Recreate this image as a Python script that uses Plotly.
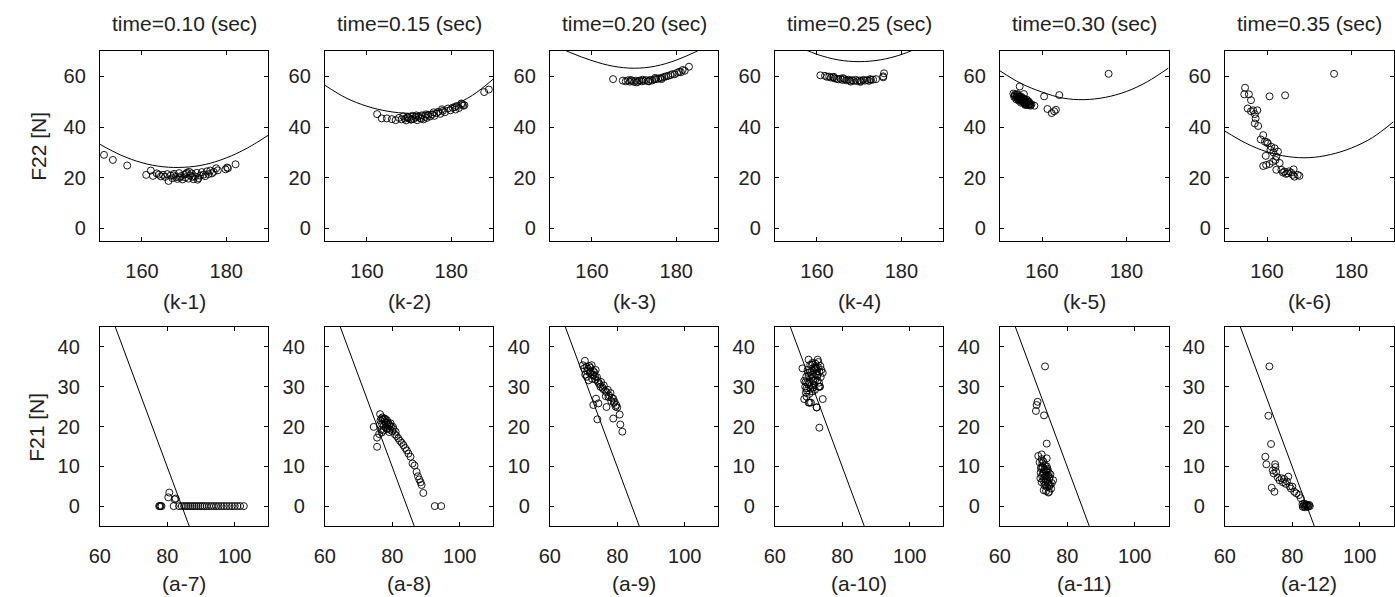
import plotly.graph_objects as go

W, H = 1395, 597

titles = ["time=0.10 (sec)", "time=0.15 (sec)", "time=0.20 (sec)",
          "time=0.25 (sec)", "time=0.30 (sec)", "time=0.35 (sec)"]
top_labels = ["(k-1)", "(k-2)", "(k-3)", "(k-4)", "(k-5)", "(k-6)"]
bot_labels = ["(a-7)", "(a-8)", "(a-9)", "(a-10)", "(a-11)", "(a-12)"]

# ---- boundary curves (top row) ----
curve_x = [150, 155, 160, 165, 170, 175, 180, 185, 190]
k1_curve = [33.2, 28.9, 25.9, 24.3, 24.1, 25.2, 27.8, 31.7, 36.8]
k2_curve = [56.5, 51.5, 48.2, 46.2, 45.4, 45.9, 48.3, 52.5, 59.0]
k3_curve = [73.0, 69.3, 66.2, 64.0, 63.2, 64.0, 66.4, 70.0, 74.0]
k4_curve = [77.0, 72.2, 68.7, 66.5, 65.8, 66.5, 68.6, 72.1, 77.0]
k5_curve = [62.2, 57.2, 53.8, 51.4, 50.8, 51.7, 54.0, 57.9, 63.3]
k6_curve = [38.4, 33.6, 30.2, 28.3, 27.9, 29.1, 31.7, 35.8, 42.1]

# ---- boundary line (bottom row) ----
line_x = [64.6, 86.5]
line_y = [45, -5]

# ---- measured points ----
k1_x = [151, 153.1, 156.5, 161, 162.1, 162.6, 163.5, 164, 164.5, 165, 165.5, 166, 166.3, 166.8,
        167.2, 167.6, 168, 168.4, 168.8, 169.2, 169.6, 170, 170.3, 170.7, 171, 171.4, 171.8, 172.2,
        172.6, 173, 173.4, 173.8, 174.2, 174.6, 175, 175.4, 175.8, 176.2, 176.6, 177, 177.6, 178,
        179.8, 180.2, 180.4, 182.2, 169.0, 170.5, 172.0, 173.2, 167.5, 171.2]
k1_y = [29, 27, 24.8, 21.1, 22.8, 20.7, 21.7, 21.2, 20.5, 21.1, 20.3, 21.4, 18.7, 20.8,
        19.8, 21.5, 20.2, 19.5, 21.8, 20.6, 19.3, 21.2, 20.1, 22.0, 19.6, 20.9, 21.7, 19.4,
        20.5, 21.9, 19.8, 20.8, 22.2, 21.2, 20.6, 22.5, 21.4, 22.8, 21.7, 22.3, 23.7, 22.9,
        23.3, 24, 23.7, 25.3, 20.0, 21.5, 20.3, 19.2, 20.9, 22.3]

k2_x = [162.4, 163.5, 164.7, 165.9, 166.8, 167.6, 168.2, 168.6, 169.0, 169.3, 169.7, 170.0, 170.4,
        170.8, 171.1, 171.5, 171.9, 172.2, 172.6, 173.0, 173.4, 173.8, 174.2, 174.5, 175.0, 175.5,
        176.0, 176.5, 176.9, 177.4, 178.0, 178.5, 179.2, 179.8, 180.3, 180.8, 181.3, 181.8, 182.4,
        182.8, 183.1, 187.8, 188.9, 169.6, 170.6, 171.7, 172.9, 174.0, 175.8, 177.8, 181.0, 182.6]
k2_y = [45.1, 43.4, 43.4, 43.1, 42.7, 43.6, 43.0, 44.2, 43.3, 42.6, 44.0, 43.5, 42.9,
        44.4, 43.2, 43.8, 42.7, 44.1, 43.5, 44.6, 43.0, 44.0, 43.6, 44.8, 44.2, 45.0,
        44.4, 45.5, 46.0, 45.2, 46.4, 45.8, 47.3, 46.6, 47.6, 47.9, 48.3, 47.5, 49.3,
        48.4, 48.6, 53.8, 54.8, 43.7, 43.0, 44.6, 43.3, 45.0, 45.8, 47.0, 46.9, 49.0]

k3_x = [165.0, 167.3, 168.0, 168.5, 169.0, 169.5, 170.0, 170.4, 170.9, 171.3, 171.8, 172.3, 172.8,
        173.3, 173.8, 174.3, 174.8, 175.2, 175.7, 176.2, 176.7, 177.2, 177.6, 178.1, 178.6, 179.1,
        179.6, 180.2, 180.7, 181.1, 181.5, 182.0, 183.0, 169.2, 170.6, 172.0, 173.5, 175.0, 176.5]
k3_y = [58.9, 58.3, 58.0, 58.4, 57.9, 58.2, 57.8, 58.3, 57.9, 58.3, 58.0, 58.2, 58.5,
        58.1, 58.6, 58.4, 58.8, 58.9, 59.1, 59.3, 59.5, 59.8, 60.0, 60.2, 60.5, 60.9,
        60.8, 61.4, 61.8, 61.6, 62.5, 62.2, 63.8, 58.6, 57.6, 58.7, 58.0, 59.4, 58.9]

k4_x = [160.8, 161.9, 162.4, 162.9, 163.3, 163.8, 164.2, 164.7, 165.1, 165.6, 166.0, 166.5, 166.9,
        167.4, 167.8, 168.3, 168.7, 169.2, 169.6, 170.1, 170.5, 171.0, 171.4, 171.9, 172.3, 172.8,
        173.3, 174.0, 175.7, 175.9, 175.7, 164.0, 166.2, 168.0, 170.3, 172.6]
k4_y = [60.4, 60.2, 59.8, 59.9, 59.5, 59.6, 59.2, 59.0, 58.8, 59.1, 58.6, 58.9, 58.4,
        58.7, 58.3, 58.5, 58.2, 58.6, 58.1, 58.4, 58.2, 58.6, 58.3, 58.5, 58.2, 58.6,
        58.7, 58.9, 59.6, 61.2, 60.0, 59.8, 59.3, 57.9, 57.8, 58.9]

k5_x = [153.2, 153.5, 153.8, 154.0, 154.3, 154.5, 154.7, 154.9, 155.2, 155.4, 155.6, 155.8, 156.0,
        156.2, 156.5, 156.7, 157.0, 157.3, 154.2, 154.6, 155.0, 155.3, 155.7, 156.1, 156.4, 156.8,
        157.2, 154.7, 155.7, 158.2, 160.5, 161.3, 162.3, 162.9, 163.3, 164.1, 175.8,
        153.4, 153.9, 154.4, 154.8, 155.1, 155.5, 155.9, 156.3, 156.6, 157.0, 157.5, 153.6, 154.1,
        154.6, 155.0, 155.5, 156.0, 156.4, 156.9]
k5_y = [53.2, 52.4, 51.6, 52.8, 51.0, 50.4, 52.0, 51.3, 50.2, 49.8, 51.1, 49.4, 50.3,
        48.9, 49.6, 48.6, 49.2, 48.4, 53.0, 52.2, 51.5, 50.8, 50.0, 49.0, 50.8, 49.8,
        48.8, 56.0, 53.0, 48.4, 52.1, 47.1, 45.5, 46.2, 46.8, 52.6, 61.0,
        51.9, 50.9, 51.8, 50.6, 51.9, 50.5, 50.9, 49.7, 50.2, 48.9, 49.0, 52.9, 52.0,
        51.0, 49.6, 51.4, 48.7, 49.3, 50.0]

k6_x = [154.8, 154.6, 155.7, 156.2, 155.4, 156.2, 156.7, 157.1, 157.7, 157.3, 157.1, 157.9, 160.6,
        164.3, 175.9, 159.1, 158.5, 159.5, 160.2, 161.0, 161.8, 159.7, 159.1, 159.8, 160.6, 161.4,
        162.2, 162.6, 163.0, 162.2, 163.4, 164.1, 164.9, 165.7, 166.1, 166.5, 167.3, 167.7, 166.3,
        160.0, 160.8, 161.5, 162.0, 163.8, 164.5, 165.2]
k6_y = [55.5, 52.9, 52.9, 50.6, 47.3, 46.2, 46.6, 45.1, 46.6, 43.4, 41.4, 40.4, 52.1,
        52.5, 61.0, 36.8, 35.1, 34.2, 33.5, 32.2, 31.6, 28.6, 24.6, 25.0, 25.4, 26.3,
        28.3, 30.3, 25.8, 23.1, 23.1, 22.4, 21.7, 22.0, 21.1, 20.4, 21.1, 20.7, 23.3,
        34.0, 31.0, 30.0, 27.0, 22.0, 21.5, 22.5]

a7_x = [77.6, 77.8, 78.0, 78.3, 80.3, 80.6, 81.9, 82.2, 82.5, 83.5, 84.3, 85.0, 85.6, 86.2, 86.8,
        87.4, 88.0, 88.6, 89.2, 89.8, 90.4, 91.0, 91.7, 92.4, 93.1, 93.8, 94.5, 95.2, 96.0, 96.8,
        97.6, 98.4, 99.2, 100.0, 100.8, 101.6, 102.7]
a7_y = [0, 0, 0, 0, 2.2, 3.4, 0, 1.7, 1.9, 0, 0, 0, 0, 0, 0,
        0, 0, 0, 0, 0, 0, 0, 0, 0, 0, 0, 0, 0, 0, 0,
        0, 0, 0, 0, 0, 0, 0]

a8_x = [74.5, 75.5, 75.5, 76.1, 76.4, 76.5, 76.8, 77.0, 77.2, 77.5, 77.7, 78.0, 78.2, 78.5, 78.8,
        79.0, 79.3, 79.6, 80.0, 80.4, 80.8, 81.3, 81.8, 82.3, 82.8, 83.3, 83.8, 84.3, 84.8, 85.4,
        86.0, 86.6, 87.2, 87.6, 88.0, 88.4, 88.7, 89.2, 92.6, 94.5,
        76.3, 76.7, 77.1, 77.4, 77.9, 78.3, 78.7, 79.1, 79.5, 76.9, 77.6, 78.4, 79.2, 80.2, 81.0]
a8_y = [19.9, 17.2, 14.9, 18.1, 23.1, 21.5, 22.0, 20.6, 21.8, 20.2, 21.3, 19.8, 20.9, 20.4, 19.5,
        20.6, 19.2, 20.0, 18.8, 19.3, 18.0, 17.6, 17.0, 16.4, 15.9, 15.3, 14.6, 14.0, 13.2, 12.4,
        10.7, 10.2, 8.6, 7.5, 6.7, 6.0, 5.3, 3.3, 0, 0,
        20.4, 19.2, 22.3, 19.0, 21.9, 19.4, 21.0, 18.6, 20.8, 18.5, 22.0, 21.6, 20.3, 19.9, 18.7]

a9_x = [69.8, 70.4, 70.9, 71.3, 71.7, 72.1, 72.4, 72.8, 73.2, 73.6, 70.5, 71.0, 71.5, 71.9, 72.5,
        73.0, 73.5, 74.0, 74.4, 74.8, 75.2, 75.6, 76.0, 76.4, 76.8, 77.2, 77.6, 78.0, 78.4, 78.8,
        79.2, 79.7, 80.0, 73.7, 74.1, 72.9, 74.4, 76.8, 78.8, 80.7, 80.9, 81.5,
        70.2, 71.1, 72.0, 72.7, 73.4, 74.2, 75.0, 75.8, 76.6, 77.4, 78.2, 79.0, 79.5]
a9_y = [35.4, 36.5, 35.0, 34.5, 35.2, 33.8, 35.4, 34.0, 33.6, 34.2, 33.0, 32.5, 31.6, 33.4, 32.0,
        33.0, 31.8, 32.4, 31.0, 30.6, 31.2, 29.8, 30.3, 29.0, 28.6, 29.2, 27.8, 28.4, 27.2, 27.0,
        26.2, 25.4, 24.8, 27.0, 21.8, 25.4, 25.8, 24.9, 22.0, 23.0, 20.5, 18.7,
        34.6, 33.9, 34.8, 32.9, 32.6, 31.5, 30.0, 29.4, 27.6, 27.4, 26.4, 25.9, 25.0]

a10_x = [68.2, 68.7, 69.0, 69.3, 69.5, 69.8, 70.0, 70.2, 70.5, 70.7, 71.0, 71.2, 71.5, 71.8, 72.0,
         72.3, 72.6, 72.9, 73.2, 73.5, 73.8, 74.2, 69.2, 69.6, 70.1, 70.6, 71.1, 71.6, 72.1, 72.7,
         73.3, 69.4, 70.3, 71.3, 72.4, 73.0, 70.0, 70.7, 72.4, 74.2, 73.2, 68.7, 72.7, 73.4,
         69.1, 69.7, 70.4, 71.0, 71.6, 72.2, 72.8, 73.6, 69.9, 70.8, 71.4, 72.0, 72.6, 73.1,
         69.4, 70.2, 71.2, 71.9, 72.5]
a10_y = [34.6, 31.5, 30.0, 32.5, 29.0, 33.5, 36.8, 31.0, 35.5, 30.2, 34.0, 36.0, 32.6, 35.0, 31.8,
         34.5, 33.0, 36.2, 33.8, 35.2, 34.2, 33.5, 28.5, 31.0, 32.8, 29.5, 33.0, 30.5, 34.8, 31.5,
         30.0, 27.5, 26.0, 29.8, 24.8, 30.0, 26.0, 26.0, 24.8, 26.9, 19.7, 26.9, 36.8, 30.0,
         31.2, 34.2, 33.6, 35.6, 34.6, 33.2, 34.9, 32.4, 30.6, 32.2, 31.4, 35.8, 32.8, 31.0,
         29.6, 28.2, 28.8, 29.2, 33.9]

a11_x = [73.4, 71.2, 70.9, 70.7, 73.1, 73.9, 73.9, 71.4, 72.4, 71.8, 72.2, 72.6, 73.0, 73.4, 73.8,
         74.2, 74.6, 75.0, 75.4, 75.8, 72.0, 72.4, 72.8, 73.2, 73.6, 74.0, 74.4, 74.8, 75.2, 72.3,
         72.9, 73.5, 74.1, 74.7, 73.0, 73.7, 74.4, 74.6,
         72.1, 72.5, 72.9, 73.3, 73.7, 74.1, 74.5, 74.9, 72.7, 73.1, 73.5, 73.9, 74.3, 72.4, 73.6]
a11_y = [35.1, 26.2, 25.4, 23.9, 22.8, 15.7, 12.0, 12.6, 13.0, 11.0, 9.5, 10.8, 8.6, 10.2, 7.8,
         9.0, 6.8, 8.0, 5.8, 6.5, 7.0, 6.0, 8.2, 5.2, 6.6, 4.8, 5.6, 7.2, 4.4, 9.8,
         11.2, 7.6, 9.4, 5.0, 4.0, 3.8, 3.4, 3.6,
         8.4, 7.6, 6.4, 9.2, 8.8, 6.2, 8.4, 5.4, 9.8, 7.0, 5.4, 10.0, 7.6, 11.8, 6.0]

a12_x = [73.2, 72.9, 73.7, 72.0, 72.3, 74.9, 74.2, 73.9, 74.7, 75.2, 75.7, 76.2, 76.8, 77.2, 77.6,
         78.0, 78.4, 78.8, 79.2, 79.6, 80.0, 80.6, 81.2, 82.0, 82.5, 83.0, 83.3, 83.6, 84.0, 84.4,
         84.8, 85.2, 83.8, 84.2, 74.5, 75.0, 83.1, 83.5, 84.6, 85.0]
a12_y = [35.1, 22.7, 15.6, 12.4, 10.5, 10.5, 9.0, 4.6, 3.6, 8.6, 7.2, 6.5, 7.0, 6.0, 6.8,
         5.6, 6.2, 7.4, 5.0, 4.4, 4.9, 3.6, 3.2, 2.8, 2.0, 0.5, 0.0, 0.3, 0.0, 0.2,
         0.0, 0.0, -0.3, 0.4, 8.2, 9.8, -0.2, 0.6, -0.2, 0.3]

top_pts = [(k1_x, k1_y), (k2_x, k2_y), (k3_x, k3_y), (k4_x, k4_y), (k5_x, k5_y), (k6_x, k6_y)]
top_curves = [k1_curve, k2_curve, k3_curve, k4_curve, k5_curve, k6_curve]
bot_pts = [(a7_x, a7_y), (a8_x, a8_y), (a9_x, a9_y), (a10_x, a10_y), (a11_x, a11_y), (a12_x, a12_y)]

top_xrange, top_yrange = [150, 190], [-5, 70]
bot_xrange, bot_yrange = [60, 110], [-5, 45]
top_xticks, top_yticks = [160, 180], [0, 20, 40, 60]
bot_xticks, bot_yticks = [60, 80, 100], [0, 10, 20, 30, 40]

# ---- layout geometry (pixels) ----
FONT = "Liberation Sans, Arial, Helvetica, sans-serif"
TXT = "#222222"
TICK_SIZE = 20
LABEL_SIZE = 21
col_left = [89.5 + 226.8 * i for i in range(6)]
panel_w = 170
rows_px = [(51, 241), (327, 526)]
y_standoff = [9, 15]

fig = go.Figure()
axis_common = dict(showline=True, linecolor="black", linewidth=1, mirror="ticks",
                   ticks="inside", ticklen=4, tickcolor="black", tickwidth=1,
                   showgrid=False, zeroline=False, fixedrange=True,
                   tickfont=dict(family=FONT, size=TICK_SIZE, color=TXT))

mk = dict(symbol="circle-open", size=7, color="black", line=dict(width=0.9, color="black"))

for r in range(2):
    for c in range(6):
        i = r * 6 + c
        idx = i + 1
        xa = "x" if idx == 1 else f"x{idx}"
        ya = "y" if idx == 1 else f"y{idx}"
        xkey = "xaxis" if idx == 1 else f"xaxis{idx}"
        ykey = "yaxis" if idx == 1 else f"yaxis{idx}"
        x0 = col_left[c] / W
        x1 = (col_left[c] + panel_w) / W
        ytop, ybot = rows_px[r]
        y0 = 1 - ybot / H
        y1 = 1 - ytop / H
        if r == 0:
            px, py = top_pts[c]
            fig.add_trace(go.Scatter(x=curve_x, y=top_curves[c], mode="lines", xaxis=xa, yaxis=ya,
                                     line=dict(color="black", width=1, shape="spline", smoothing=1.0),
                                     showlegend=False, hoverinfo="skip"))
            xr, yr, xt, yt = top_xrange, top_yrange, top_xticks, top_yticks
        else:
            px, py = bot_pts[c]
            fig.add_trace(go.Scatter(x=line_x, y=line_y, mode="lines", xaxis=xa, yaxis=ya,
                                     line=dict(color="black", width=1),
                                     showlegend=False, hoverinfo="skip"))
            xr, yr, xt, yt = bot_xrange, bot_yrange, bot_xticks, bot_yticks
        fig.add_trace(go.Scatter(x=px, y=py, mode="markers", xaxis=xa, yaxis=ya, marker=mk,
                                 showlegend=False, cliponaxis=True))
        fig.layout[xkey] = dict(axis_common, domain=[x0, x1], range=xr, tickvals=xt,
                                anchor=ya, ticklabelstandoff=12)
        fig.layout[ykey] = dict(axis_common, domain=[y0, y1], range=yr, tickvals=yt,
                                anchor=xa, ticklabelstandoff=y_standoff[r])

annotations = []
for c in range(6):
    xc = (col_left[c] + panel_w / 2) / W
    annotations.append(dict(text=titles[c], x=xc, y=1 - 24 / H, xref="paper", yref="paper",
                            showarrow=False, xanchor="center", yanchor="middle",
                            font=dict(family=FONT, size=LABEL_SIZE, color=TXT)))
    annotations.append(dict(text=top_labels[c], x=xc, y=1 - 301 / H, xref="paper", yref="paper",
                            showarrow=False, xanchor="center", yanchor="middle",
                            font=dict(family=FONT, size=LABEL_SIZE, color=TXT)))
    annotations.append(dict(text=bot_labels[c], x=xc, y=1 - 583 / H, xref="paper", yref="paper",
                            showarrow=False, xanchor="center", yanchor="middle",
                            font=dict(family=FONT, size=LABEL_SIZE, color=TXT)))
annotations.append(dict(text="F22 [N]", x=27 / W, y=1 - 146 / H, xref="paper", yref="paper",
                        showarrow=False, textangle=-90, xanchor="center", yanchor="middle",
                        font=dict(family=FONT, size=LABEL_SIZE, color=TXT)))
annotations.append(dict(text="F21 [N]", x=25 / W, y=1 - 427 / H, xref="paper", yref="paper",
                        showarrow=False, textangle=-90, xanchor="center", yanchor="middle",
                        font=dict(family=FONT, size=LABEL_SIZE, color=TXT)))

fig.update_layout(width=W, height=H, margin=dict(l=0, r=0, t=0, b=0),
                  paper_bgcolor="white", plot_bgcolor="white",
                  annotations=annotations, showlegend=False)

fig.write_html("out.html", config={"displayModeBar": False})
